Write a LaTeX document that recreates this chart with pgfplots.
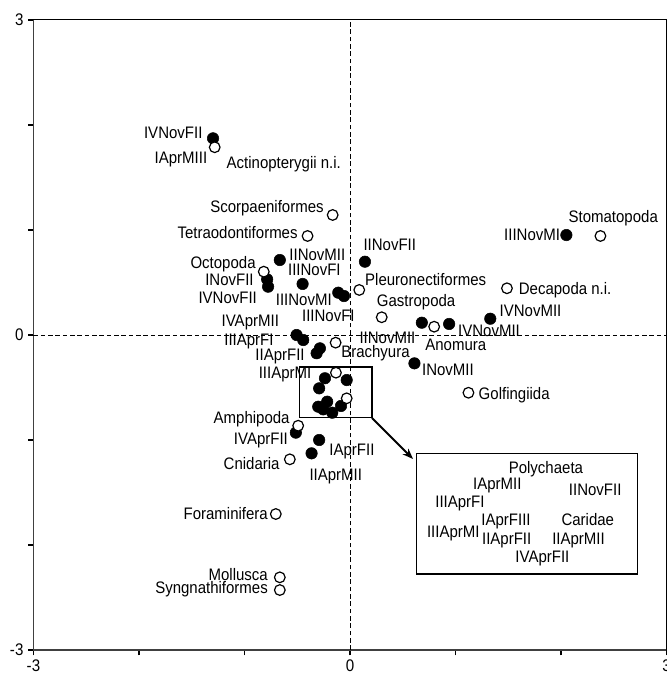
\documentclass[border=0pt]{standalone}
\usepackage{pgfplots}
\pgfplotsset{compat=1.18}
\usepackage{fontspec}
\setmainfont{Liberation Sans}[FakeStretch=0.9]
\usetikzlibrary{arrows.meta}

\tikzset{lab/.style={font=\fontsize{12.5}{14}\selectfont, inner sep=0pt, text height=8.8pt, text depth=0pt}}

% sample scores (filled) and taxa (open)
\pgfplotstableread{
x y
-1.298 1.873
-0.665 0.714
-0.785 0.530
-0.776 0.460
-0.449 0.486
-0.111 0.403
-0.057 0.371
0.142 0.698
2.051 0.952
1.330 0.155
0.681 0.117
0.940 0.105
0.611 -0.270
-0.506 0.000
-0.443 -0.048
-0.285 -0.127
-0.316 -0.174
-0.031 -0.429
-0.237 -0.412
-0.292 -0.508
-0.301 -0.683
-0.216 -0.635
-0.254 -0.708
-0.168 -0.740
-0.085 -0.676
-0.513 -0.930
-0.292 -1.000
-0.364 -1.127
}\samples

\pgfplotstableread{
x y
-1.282 1.788
-0.164 1.143
-0.402 0.943
-0.817 0.603
0.088 0.429
2.374 0.943
1.488 0.445
0.301 0.169
0.798 0.079
-0.136 -0.073
1.123 -0.550
-0.133 -0.359
-0.031 -0.603
-0.491 -0.864
-0.570 -1.184
-0.703 -1.705
-0.665 -2.308
-0.665 -2.429
}\taxa

\begin{document}
\begin{tikzpicture}
\begin{axis}[
    width=474.75pt, height=472.5pt, scale only axis,
    xmin=-3, xmax=3, ymin=-3, ymax=3,
    axis lines=left,
    axis line style={-, line width=1.4pt, black!75},
    tick align=outside,
    major tick length=4pt,
    tick style={black, line width=1.2pt},
    xtick={-3,-2,-1,0,1,2,3}, xticklabels={-3,{},{},0,{},{},3},
    ytick={-3,-2,-1,0,1,2,3}, yticklabels={-3,{},{},0,{},{},3},
    ticklabel style={font=\fontsize{12.6}{14}\selectfont},
    clip=false,
]
\draw[line width=0.75pt] (rel axis cs:0,1) -- (rel axis cs:1,1) -- (rel axis cs:1,0);

\addplot[black, line width=0.6pt, dash pattern=on 3.5pt off 2pt] coordinates {(0,-3) (0,3)};
\addplot[black, line width=0.6pt, dash pattern=on 3.5pt off 2pt] coordinates {(-3,0) (3,0)};

\addplot[only marks, mark=*, mark size=4.3pt, mark options={fill=black, draw=black}] table {\samples};
\addplot[only marks, mark=*, mark size=4pt, mark options={fill=white, draw=black, line width=0.9pt}] table {\taxa};

% zoom box and arrow
\draw[line width=0.8pt] (axis cs:-0.475,-0.305) rectangle (axis cs:0.209,-0.790);
\draw[line width=1.5pt, -{Stealth[length=8pt,width=6pt]}] (axis cs:0.209,-0.790) -- (axis cs:0.598,-1.181);
\draw[line width=0.8pt] (axis cs:0.627,-1.133) rectangle (axis cs:2.725,-2.276);

% labels, right aligned
\node[lab, anchor=east] at (axis cs:-1.396,1.924) {IVNovFII};
\node[lab, anchor=east] at (axis cs:-1.351,1.686) {IAprMIII};
\node[lab, anchor=east] at (axis cs:-0.247,1.219) {Scorpaeniformes};
\node[lab, anchor=east] at (axis cs:-0.494,0.971) {Tetraodontiformes};
\node[lab, anchor=east] at (axis cs:-0.892,0.689) {Octopoda};
\node[lab, anchor=east] at (axis cs:-0.911,0.524) {INovFII};
\node[lab, anchor=east] at (axis cs:-0.880,0.359) {IVNovFII};
\node[lab, anchor=east] at (axis cs:-0.671,0.133) {IVAprMII};
\node[lab, anchor=east] at (axis cs:-0.722,-0.041) {IIIAprFI};
\node[lab, anchor=east] at (axis cs:-0.427,-0.190) {IIAprFII};
\node[lab, anchor=east] at (axis cs:-0.364,-0.359) {IIIAprMI};
\node[lab, anchor=east] at (axis cs:-0.570,-0.788) {Amphipoda};
\node[lab, anchor=east] at (axis cs:-0.586,-0.984) {IVAprFII};
\node[lab, anchor=east] at (axis cs:-0.665,-1.229) {Cnidaria};
\node[lab, anchor=east] at (axis cs:-0.776,-1.698) {Foraminifera};
\node[lab, anchor=east] at (axis cs:-0.776,-2.286) {Mollusca};
\node[lab, anchor=east] at (axis cs:-0.776,-2.403) {Syngnathiformes};
\node[lab, anchor=east] at (axis cs:1.994,0.952) {IIINovMI};

% labels, left aligned
\node[lab, anchor=west] at (axis cs:-1.171,1.641) {Actinopterygii n.i.};
\node[lab, anchor=west] at (axis cs:-0.576,0.762) {IINovMII};
\node[lab, anchor=west] at (axis cs:-0.589,0.619) {IIINovFI};
\node[lab, anchor=west] at (axis cs:-0.705,0.333) {IIINovMI};
\node[lab, anchor=west] at (axis cs:-0.456,0.181) {IIINovFI};
\node[lab, anchor=west] at (axis cs:2.070,1.124) {Stomatopoda};
\node[lab, anchor=west] at (axis cs:0.126,0.857) {IINovFII};
\node[lab, anchor=west] at (axis cs:0.142,0.524) {Pleuronectiformes};
\node[lab, anchor=west] at (axis cs:1.598,0.445) {Decapoda n.i.};
\node[lab, anchor=west] at (axis cs:0.253,0.324) {Gastropoda};
\node[lab, anchor=west] at (axis cs:1.417,0.229) {IVNovMII};
\node[lab, anchor=west] at (axis cs:1.023,0.041) {IVNovMII};
\node[lab, anchor=west] at (axis cs:0.088,-0.022) {IINovMII};
\node[lab, anchor=west] at (axis cs:0.712,-0.095) {Anomura};
\node[lab, anchor=west] at (axis cs:-0.085,-0.159) {Brachyura};
\node[lab, anchor=west] at (axis cs:0.681,-0.327) {INovMII};
\node[lab, anchor=west] at (axis cs:1.218,-0.555) {Golfingiida};
\node[lab, anchor=west] at (axis cs:-0.197,-1.089) {IAprFII};
\node[lab, anchor=west] at (axis cs:-0.386,-1.333) {IIAprMII};

% labels inside the inset box
\node[lab, anchor=west] at (axis cs:1.503,-1.260) {Polychaeta};
\node[lab, anchor=west] at (axis cs:1.165,-1.412) {IAprMII};
\node[lab, anchor=west] at (axis cs:2.073,-1.476) {IINovFII};
\node[lab, anchor=west] at (axis cs:0.807,-1.588) {IIIAprFI};
\node[lab, anchor=west] at (axis cs:1.244,-1.755) {IAprFIII};
\node[lab, anchor=west] at (axis cs:2.003,-1.762) {Caridae};
\node[lab, anchor=west] at (axis cs:0.728,-1.873) {IIIAprMI};
\node[lab, anchor=west] at (axis cs:1.250,-1.936) {IIAprFII};
\node[lab, anchor=west] at (axis cs:1.915,-1.936) {IIAprMII};
\node[lab, anchor=west] at (axis cs:1.566,-2.111) {IVAprFII};
\end{axis}
\pgfresetboundingbox
\useasboundingbox ([xshift=-25.1pt,yshift=-19.5pt]current axis.south west) rectangle ([yshift=15pt]current axis.north east);
\end{tikzpicture}
\end{document}
